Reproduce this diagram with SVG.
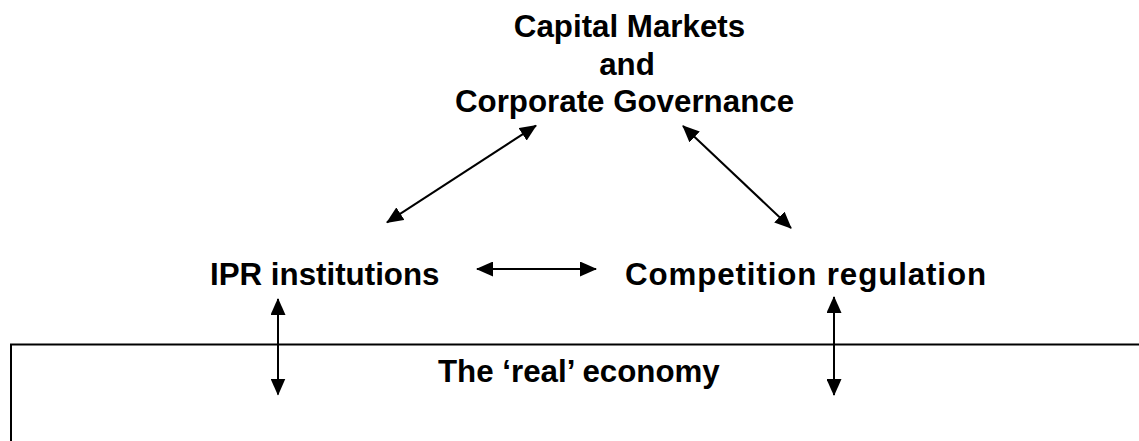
<svg xmlns="http://www.w3.org/2000/svg" width="1139" height="441" viewBox="0 0 1139 441">
  <style>
    .lbl { font-family: "Liberation Sans", Arial, sans-serif; font-weight: bold; font-size: 31.3px; fill: #000; }
    .conn { stroke: #000; stroke-width: 2; fill: none; marker-start: url(#ah); marker-end: url(#ah); }
    .frame { stroke: #000; stroke-width: 2; fill: none; }
  </style>
  <defs>
    <marker id="ah" viewBox="0 0 17 15" refX="16" refY="7.5" markerWidth="17" markerHeight="15" markerUnits="userSpaceOnUse" orient="auto-start-reverse">
      <path d="M0,0 L17,7.5 L0,15 Z" fill="#000"/>
    </marker>
  </defs>
  <rect width="1139" height="441" fill="#fff"/>

  <g id="node-capital-markets">
    <text class="lbl" x="629.5" y="37" text-anchor="middle">Capital Markets</text>
    <text class="lbl" x="627" y="74.5" text-anchor="middle">and</text>
    <text class="lbl" x="624.5" y="112" text-anchor="middle">Corporate Governance</text>
  </g>
  <g id="node-ipr">
    <text class="lbl" x="210" y="285">IPR institutions</text>
  </g>
  <g id="node-competition">
    <text class="lbl" x="625" y="285" textLength="361" lengthAdjust="spacing">Competition regulation</text>
  </g>
  <g id="node-real-economy">
    <path class="frame" d="M11,441 L11,344.5 L1139,344.5"/>
    <text class="lbl" x="438" y="382">The ‘real’ economy</text>
  </g>

  <g id="connectors">
    <line class="conn" x1="387" y1="222.4" x2="536" y2="125.6"/>
    <line class="conn" x1="683" y1="126" x2="791" y2="228"/>
    <line class="conn" x1="477" y1="269" x2="596" y2="269"/>
    <line class="conn" x1="278" y1="299" x2="278" y2="394.5"/>
    <line class="conn" x1="834" y1="297" x2="834" y2="395"/>
  </g>
</svg>
